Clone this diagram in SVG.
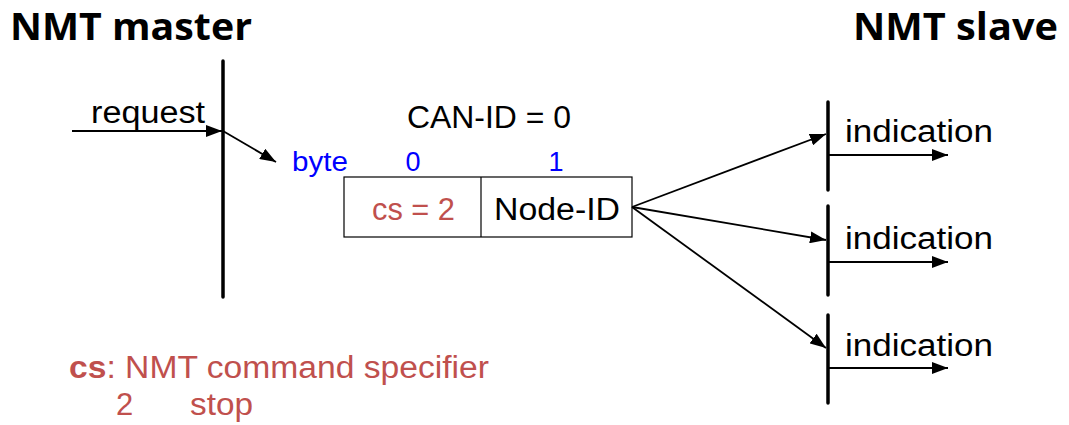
<svg xmlns="http://www.w3.org/2000/svg" width="1069" height="425" viewBox="0 0 1069 425">
<style>
.t{font-family:"Liberation Sans",Arial,sans-serif;fill:#000;font-size:31px}
.h{font-family:"Open Sans","Liberation Sans",sans-serif;font-weight:bold;font-size:38px;fill:#000}
.b{fill:#0000ff;font-size:27px}
.r{fill:#c0504d}
.life{stroke:#000;stroke-width:3.5;stroke-linecap:round;fill:none}
.ln{stroke:#000;stroke-width:1.8;fill:none}
</style>
<defs>
<marker id="ah2" viewBox="0 0 16 12" refX="16" refY="6" markerWidth="16" markerHeight="12" markerUnits="userSpaceOnUse" orient="auto">
<path d="M0,0 L16,6 L0,12 Z" fill="#000"/>
</marker>
</defs>
<g id="master">
<text class="h" x="10" y="40" textLength="242" lengthAdjust="spacingAndGlyphs">NMT master</text>
<line class="life" x1="223" y1="61" x2="223" y2="297"/>
<text class="t" x="91" y="123" font-size="30" textLength="114" lengthAdjust="spacingAndGlyphs">request</text>
</g>
<g id="slave">
<text class="h" x="853" y="40" textLength="205" lengthAdjust="spacingAndGlyphs">NMT slave</text>
<line class="life" x1="828" y1="102" x2="828" y2="190"/>
<line class="life" x1="828" y1="206" x2="828" y2="295"/>
<line class="life" x1="828" y1="315" x2="828" y2="403"/>
<text class="t" x="845" y="142" textLength="148" lengthAdjust="spacingAndGlyphs">indication</text>
<text class="t" x="845" y="249" textLength="148" lengthAdjust="spacingAndGlyphs">indication</text>
<text class="t" x="845" y="356" textLength="148" lengthAdjust="spacingAndGlyphs">indication</text>
</g>
<g id="frame">
<text class="t" x="407" y="128" textLength="164" lengthAdjust="spacingAndGlyphs">CAN-ID = 0</text>
<text class="t b" x="292" y="171" textLength="56" lengthAdjust="spacingAndGlyphs">byte</text>
<text class="t b" x="413" y="171" text-anchor="middle">0</text>
<text class="t b" x="556" y="171" text-anchor="middle">1</text>
<rect x="344" y="177" width="288" height="60" fill="#fff" stroke="#000" stroke-width="1.2"/>
<line x1="481" y1="177" x2="481" y2="237" stroke="#000" stroke-width="1.2"/>
<text class="t r" x="372" y="220" font-size="32" textLength="83" lengthAdjust="spacingAndGlyphs">cs = 2</text>
<text class="t" x="494" y="220" font-size="32" textLength="126" lengthAdjust="spacingAndGlyphs">Node-ID</text>
</g>
<g id="legend">
<text class="t r" x="69" y="378" font-size="32" textLength="420" lengthAdjust="spacingAndGlyphs"><tspan font-weight="bold">cs</tspan>: NMT command specifier</text>
<text class="t r" x="116" y="415" font-size="32">2</text>
<text class="t r" x="190" y="415" font-size="32" textLength="63" lengthAdjust="spacingAndGlyphs">stop</text>
</g>
<g id="connectors">
<line class="ln" x1="72" y1="131" x2="222" y2="131" marker-end="url(#ah2)"/>
<line class="ln" x1="223" y1="131" x2="276" y2="162" marker-end="url(#ah2)"/>
<line class="ln" x1="632" y1="207" x2="826" y2="134" marker-end="url(#ah2)"/>
<line class="ln" x1="632" y1="207" x2="826" y2="240" marker-end="url(#ah2)"/>
<line class="ln" x1="632" y1="207" x2="826" y2="348" marker-end="url(#ah2)"/>
<line class="ln" x1="828" y1="155" x2="948" y2="155" marker-end="url(#ah2)"/>
<line class="ln" x1="828" y1="262" x2="948" y2="262" marker-end="url(#ah2)"/>
<line class="ln" x1="828" y1="368" x2="948" y2="368" marker-end="url(#ah2)"/>
</g>
</svg>
